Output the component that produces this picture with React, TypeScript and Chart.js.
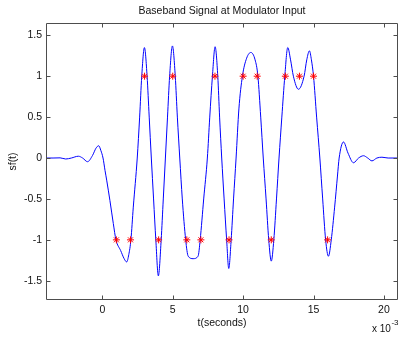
import React, { useEffect, useRef } from "react";
import { Chart, registerables } from "chart.js";

Chart.register(...registerables);

const TITLE = "Baseband Signal at Modulator Input";
const X_LABEL = "t(seconds)";
const Y_LABEL = "sf(t)";
const X_EXP_BASE = "x 10";
const X_EXP_POWER = "-3";

const xTicks = [0, 5, 10, 15, 20];
const yTicks = [-1.5, -1, -0.5, 0, 0.5, 1, 1.5];
const xMin = -4;
const xMax = 21;
const yMin = -1.735;
const yMax = 1.65;

// filtered baseband signal, t in units of 1e-3 s
const curveT = [
  -4.0, -3.5, -3.0, -2.6, -2.2, -1.7, -1.4, -1.05, -0.7, -0.45, -0.26, -0.1,
  0.05, 0.19, 0.31, 0.54, 0.78, 0.97, 1.3, 1.55, 1.73, 1.88, 2.03, 2.2,
  2.48, 2.65, 2.8, 2.99, 3.18, 3.33, 3.48, 3.64, 3.8, 3.98, 4.18, 4.33,
  4.48, 4.63, 4.78, 4.98, 5.18, 5.33, 5.5, 5.68, 5.92, 6.1, 6.45, 6.8,
  6.95, 7.2, 7.46, 7.63, 7.82, 8.01, 8.2, 8.33, 8.48, 8.65, 8.83, 8.98,
  9.15, 9.32, 9.5, 9.7, 9.95, 10.25, 10.55, 10.85, 11.05, 11.25, 11.43, 11.63,
  11.82, 12.0, 12.18, 12.37, 12.55, 12.75, 12.96, 13.17, 13.37, 13.57, 13.93, 14.33,
  14.52, 14.71, 14.85, 15.0, 15.22, 15.45, 15.65, 15.86, 16.06, 16.26, 16.5, 16.7,
  16.82, 17.13, 17.45, 17.84, 18.2, 18.55, 18.85, 19.15, 19.5, 19.86, 20.3, 21.0,
];
const curveS = [
  0.0, 0.0, 0.002, -0.012, 0.0, 0.022, 0.0, -0.045, 0.03, 0.12, 0.15, 0.09,
  0.0, -0.15, -0.27, -0.52, -0.8, -1.0, -1.13, -1.23, -1.27, -1.18, -1.0, -0.6,
  0.0, 0.5, 1.0, 1.35, 1.0, 0.5, 0.0, -0.5, -1.0, -1.44, -1.0, -0.5,
  0.0, 0.5, 1.0, 1.37, 1.0, 0.5, 0.0, -0.5, -1.0, -1.2, -1.23, -1.2,
  -1.0, -0.5, 0.0, 0.5, 1.0, 1.36, 1.0, 0.5, 0.0, -0.5, -1.0, -1.35,
  -1.0, -0.5, 0.0, 0.6, 1.0, 1.22, 1.29, 1.2, 1.0, 0.5, 0.0, -0.5,
  -1.0, -1.26, -1.0, -0.5, 0.0, 0.5, 1.0, 1.35, 1.2, 1.0, 0.84, 1.0,
  1.2, 1.31, 1.2, 1.0, 0.5, 0.0, -0.5, -1.0, -1.2, -1.0, -0.6, -0.22,
  0.0, 0.196, 0.06, -0.058, 0.0, 0.028, 0.0, -0.035, 0.0, 0.01, 0.0, 0.0,
];

// transmitted symbols
const symbolT = [1, 2, 3, 4, 5, 6, 7, 8, 9, 10, 11, 12, 13, 14, 15, 16];
const symbolS = [-1, -1, 1, -1, 1, -1, -1, 1, -1, 1, 1, -1, 1, 1, 1, -1];

const FONT = "'Liberation Sans', Arial, Helvetica, sans-serif";
const TEXT_COLOR = "#111111";
const AXIS_COLOR = "#4d4d4d";

const matlabAxes = {
  id: "matlabAxes",
  afterDraw(chart: any) {
    const ctx = chart.ctx;
    const { left, right, top, bottom } = chart.chartArea;
    const L = left + 0.5;
    const R = right - 0.5;
    const T = top + 0.5;
    const B = bottom - 0.5;
    const len = 4;
    ctx.save();
    ctx.strokeStyle = AXIS_COLOR;
    ctx.lineWidth = 1;
    ctx.beginPath();
    ctx.rect(L, T, R - L, B - T);
    const xs = chart.scales.x;
    const ys = chart.scales.y;
    xs.ticks.forEach((t: any) => {
      const px = Math.round(xs.getPixelForValue(t.value)) + 0.5;
      ctx.moveTo(px, B);
      ctx.lineTo(px, B - len);
      ctx.moveTo(px, T);
      ctx.lineTo(px, T + len);
    });
    ys.ticks.forEach((t: any) => {
      const py = Math.round(ys.getPixelForValue(t.value)) + 0.5;
      ctx.moveTo(L, py);
      ctx.lineTo(L + len, py);
      ctx.moveTo(R, py);
      ctx.lineTo(R - len, py);
    });
    ctx.stroke();

    // axis exponent label
    ctx.fillStyle = TEXT_COLOR;
    ctx.textBaseline = "alphabetic";
    ctx.textAlign = "left";
    ctx.font = `10px ${FONT}`;
    ctx.fillText(X_EXP_BASE, right - 26, bottom + 32);
    const w = ctx.measureText(X_EXP_BASE).width;
    ctx.font = `8px ${FONT}`;
    ctx.fillText(X_EXP_POWER, right - 26 + w + 0.5, bottom + 25);
    ctx.restore();
  },
};

export default function App() {
  const canvasRef = useRef<HTMLCanvasElement | null>(null);

  useEffect(() => {
    document.body.style.margin = "0";
    const canvas = canvasRef.current;
    if (!canvas) return;
    const tickFont = { family: FONT, size: 10.5, weight: "normal" as const };
    const chart = new Chart(canvas, {
      type: "line",
      data: {
        datasets: [
          {
            label: "symbols",
            data: symbolT.map((t, i) => ({ x: t, y: symbolS[i] })),
            showLine: false,
            pointStyle: "star",
            pointRadius: 3.5,
            pointBorderWidth: 1,
            pointBorderColor: "#ff0000",
            pointBackgroundColor: "#ff0000",
            order: 0,
          },
          {
            label: "signal",
            data: curveT.map((t, i) => ({ x: t, y: curveS[i] })),
            borderColor: "#0000ff",
            borderWidth: 1,
            pointRadius: 0,
            fill: false,
            cubicInterpolationMode: "monotone",
            order: 1,
          },
        ],
      },
      options: {
        animation: false,
        responsive: false,
        devicePixelRatio: 1,
        layout: { padding: { left: 0, right: 13, top: 0, bottom: 0 } },
        plugins: {
          legend: { display: false },
          tooltip: { enabled: false },
          title: {
            display: true,
            text: TITLE,
            fullSize: false,
            color: TEXT_COLOR,
            font: { family: FONT, size: 10.5, weight: "normal" },
            padding: { top: 5, bottom: 5.4 },
          },
        },
        scales: {
          x: {
            type: "linear",
            min: xMin,
            max: xMax,
            afterBuildTicks: (s: any) => {
              s.ticks = xTicks.map((v) => ({ value: v }));
            },
            afterFit: (s: any) => {
              s.height = 39;
            },
            grid: { display: false, drawTicks: false },
            border: { display: false },
            ticks: {
              color: TEXT_COLOR,
              font: tickFont,
              padding: 4,
              maxRotation: 0,
              autoSkip: false,
              callback: (v: any) => String(v),
            },
            title: {
              display: true,
              text: X_LABEL,
              color: TEXT_COLOR,
              font: tickFont,
              padding: { top: 0, bottom: 10 },
            },
          },
          y: {
            type: "linear",
            min: yMin,
            max: yMax,
            afterBuildTicks: (s: any) => {
              s.ticks = yTicks.map((v) => ({ value: v }));
            },
            afterFit: (s: any) => {
              s.width = 46;
            },
            grid: { display: false, drawTicks: false },
            border: { display: false },
            ticks: {
              color: TEXT_COLOR,
              font: tickFont,
              padding: 4,
              autoSkip: false,
              callback: (v: any) => String(v),
            },
            title: {
              display: true,
              text: Y_LABEL,
              color: TEXT_COLOR,
              font: tickFont,
              padding: { top: 7, bottom: 0 },
            },
          },
        },
      },
      plugins: [matlabAxes],
    });
    return () => chart.destroy();
  }, []);

  return (
    <div style={{ width: 411, height: 339, background: "#ffffff" }}>
      <canvas ref={canvasRef} width={411} height={339} style={{ display: "block" }} />
    </div>
  );
}
